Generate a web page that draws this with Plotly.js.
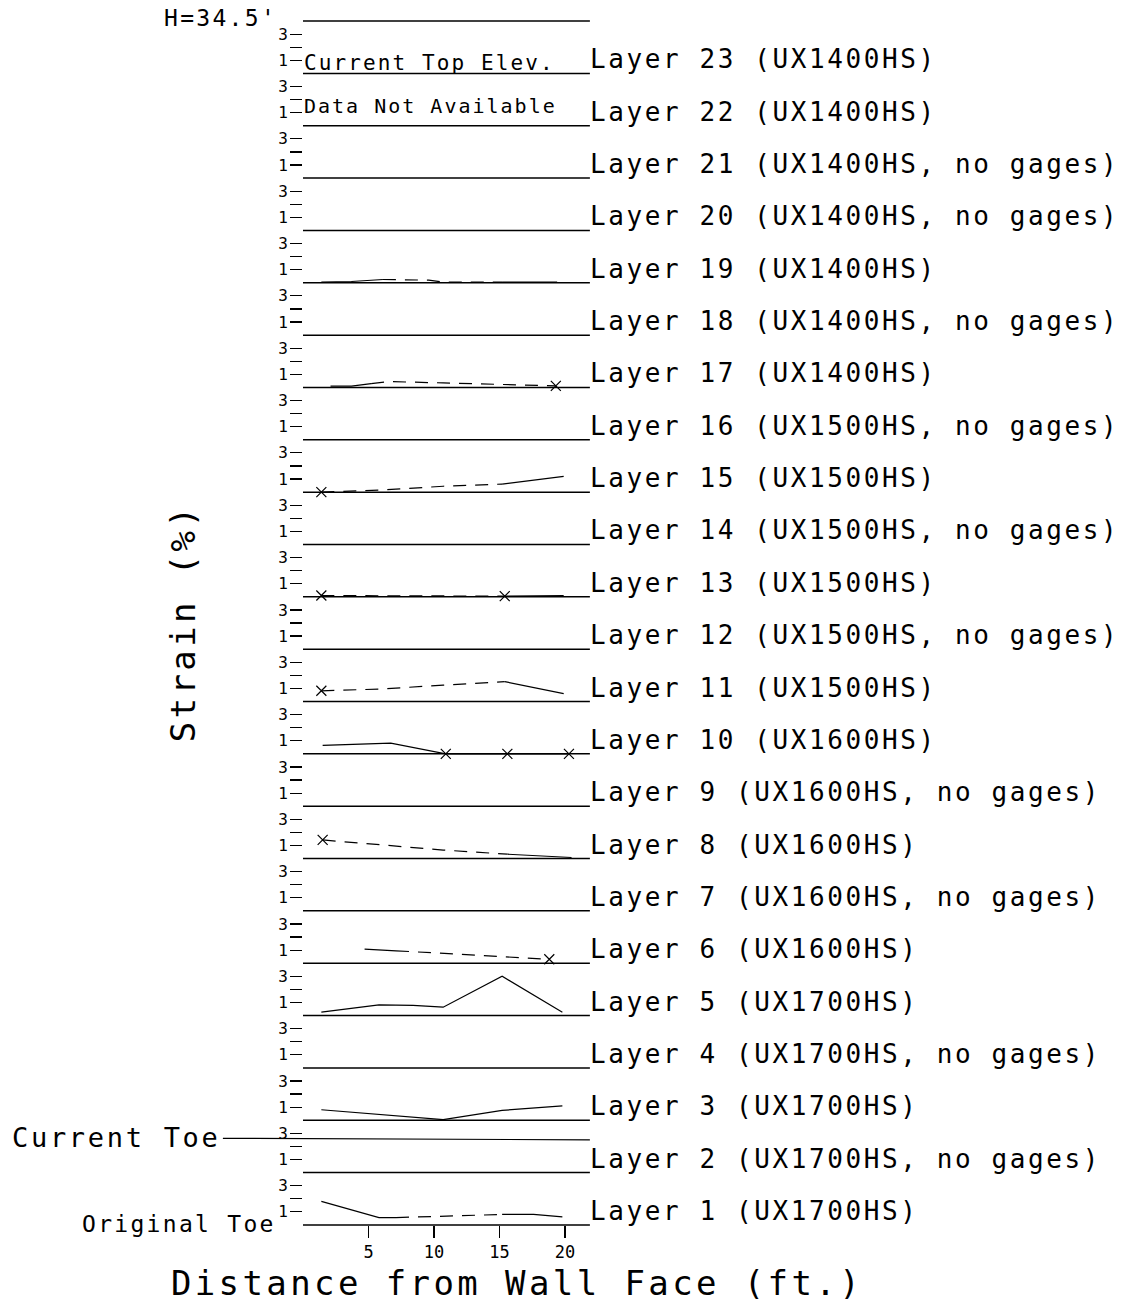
<!DOCTYPE html>
<html>
<head>
<meta charset="utf-8">
<script src="https://cdn.plot.ly/plotly-3.0.1.min.js"></script>
<style>
  html, body { margin: 0; padding: 0; background: #fff; }
  #chart { width: 1126px; height: 1303px; }
  .annotation-text, .xtitle, .ytitle { letter-spacing: 0.1em; }
</style>
</head>
<body>
<div id="chart"></div>
<script>
// ---------- data ----------
const layerNumbers = [1,2,3,4,5,6,7,8,9,10,11,12,13,14,15,16,17,18,19,20,21,22,23];
const gridTypes = ['UX1700HS','UX1700HS','UX1700HS','UX1700HS','UX1700HS',
                   'UX1600HS','UX1600HS','UX1600HS','UX1600HS','UX1600HS',
                   'UX1500HS','UX1500HS','UX1500HS','UX1500HS','UX1500HS','UX1500HS',
                   'UX1400HS','UX1400HS','UX1400HS','UX1400HS','UX1400HS','UX1400HS','UX1400HS'];
const noGageLayers = [2,4,7,9,12,14,16,18,20,21];

const xTickVals = [5, 10, 15, 20];
const yTickVals = [1, 2, 3];
const yTickText = ['1', '', '3'];

// distance from wall face (ft) / strain (%) / segment style (s = solid, d = dashed) / broken-gage marks
const L1_X = [1.4, 5.8, 7.1, 10.7, 15.2, 17.6, 19.8];
const L1_Y = [1.8, 0.56, 0.56, 0.69, 0.8, 0.8, 0.62];
const L1_SEG = ['s','s','d','d','s','s'];
const L1_MARK = [];

const L3_X = [1.4, 10.7, 15.2, 19.8];
const L3_Y = [0.8, 0.05, 0.75, 1.1];
const L3_SEG = ['s','s','s'];
const L3_MARK = [];

const L5_X = [1.4, 5.8, 8.4, 10.7, 15.2, 19.8];
const L5_Y = [0.26, 0.82, 0.78, 0.64, 3.0, 0.26];
const L5_SEG = ['s','s','s','s','s'];
const L5_MARK = [];

const L6_X = [4.7, 7.1, 10.7, 15.2, 18.8];
const L6_Y = [1.07, 0.95, 0.75, 0.5, 0.3];
const L6_SEG = ['s','d','d','d'];
const L6_MARK = [4];

const L8_X = [1.5, 5.8, 10.7, 15.6, 18.0, 20.5];
const L8_Y = [1.42, 1.05, 0.65, 0.33, 0.22, 0.08];
const L8_SEG = ['d','d','d','s','s'];
const L8_MARK = [0];

const L10_X = [1.5, 3.8, 6.7, 10.9, 15.6, 20.3];
const L10_Y = [0.65, 0.72, 0.82, 0, 0, 0];
const L10_SEG = ['s','s','s','s','s'];
const L10_MARK = [3, 4, 5];

const L11_X = [1.4, 5.8, 10.7, 15.4, 19.9];
const L11_Y = [0.82, 0.95, 1.25, 1.52, 0.6];
const L11_SEG = ['d','d','d','s'];
const L11_MARK = [0];

const L13_X = [1.4, 5.8, 10.7, 15.4, 19.9];
const L13_Y = [0.1, 0.1, 0.1, 0.05, 0.1];
const L13_SEG = ['d','d','d','s'];
const L13_MARK = [0, 3];

const L15_X = [1.4, 5.8, 10.7, 15.2, 19.9];
const L15_Y = [0, 0.15, 0.45, 0.62, 1.2];
const L15_SEG = ['d','d','d','s'];
const L15_MARK = [0];

const L17_X = [2.1, 3.7, 5.2, 6.5, 10.7, 15.2, 19.3];
const L17_Y = [0.1, 0.1, 0.3, 0.45, 0.35, 0.25, 0.12];
const L17_SEG = ['s','s','d','d','d','d'];
const L17_MARK = [6];

const L19_X = [1.4, 3.7, 6.1, 9.6, 10.7, 15.2, 19.4];
const L19_Y = [0.05, 0.1, 0.25, 0.2, 0.05, 0.05, 0.05];
const L19_SEG = ['s','s','d','d','d','s'];
const L19_MARK = [];

const gagedLayers = [
  {layer: 1, x: L1_X, y: L1_Y, seg: L1_SEG, mark: L1_MARK},
  {layer: 3, x: L3_X, y: L3_Y, seg: L3_SEG, mark: L3_MARK},
  {layer: 5, x: L5_X, y: L5_Y, seg: L5_SEG, mark: L5_MARK},
  {layer: 6, x: L6_X, y: L6_Y, seg: L6_SEG, mark: L6_MARK},
  {layer: 8, x: L8_X, y: L8_Y, seg: L8_SEG, mark: L8_MARK},
  {layer: 10, x: L10_X, y: L10_Y, seg: L10_SEG, mark: L10_MARK},
  {layer: 11, x: L11_X, y: L11_Y, seg: L11_SEG, mark: L11_MARK},
  {layer: 13, x: L13_X, y: L13_Y, seg: L13_SEG, mark: L13_MARK},
  {layer: 15, x: L15_X, y: L15_Y, seg: L15_SEG, mark: L15_MARK},
  {layer: 17, x: L17_X, y: L17_Y, seg: L17_SEG, mark: L17_MARK},
  {layer: 19, x: L19_X, y: L19_Y, seg: L19_SEG, mark: L19_MARK}
];

const wallHeightLabel = "H=34.5'";
const currentToeStrain = 2.5;   // position inside layer 2 strip
const topNote1 = 'Current Top Elev.';
const topNote2 = 'Data Not Available';

// ---------- layout constants ----------
const PANEL = 4;          // strain units per layer strip
const XEND = 21.9;        // right end of each strip (ft)
const PX_PER_FT = 13.1;
const LEFT = 303, RIGHT_M = 395;
const PLOT_W = 1126 - LEFT - RIGHT_M;
const XMAX = PLOT_W / PX_PER_FT;
const YMIN = -1, YMAX = layerNumbers.length * PANEL + 1;
const FONT = '"DejaVu Sans Mono", "Liberation Mono", monospace';

const offsetOf = n => (n - 1) * PANEL;

// ---------- traces ----------
const traces = [];
gagedLayers.forEach(g => {
  const off = offsetOf(g.layer);
  let i = 0;
  while (i < g.seg.length) {
    let j = i;
    while (j + 1 < g.seg.length && g.seg[j + 1] === g.seg[i]) j++;
    traces.push({
      type: 'scatter', mode: 'lines',
      x: g.x.slice(i, j + 2),
      y: g.y.slice(i, j + 2).map(v => v + off),
      line: {color: '#000', width: 1.2, dash: g.seg[i] === 'd' ? '13px,9px' : 'solid'},
      showlegend: false, hoverinfo: 'skip'
    });
    i = j + 1;
  }
  if (g.mark.length) {
    traces.push({
      type: 'scatter', mode: 'markers',
      x: g.mark.map(k => g.x[k]),
      y: g.mark.map(k => g.y[k] + off),
      marker: {symbol: 'x-thin', size: 10, color: '#000', line: {color: '#000', width: 1.2}},
      showlegend: false, hoverinfo: 'skip', cliponaxis: false
    });
  }
});

// ---------- shapes: strip baselines ----------
const shapes = [];
layerNumbers.forEach(n => {
  shapes.push({type: 'line', xref: 'x', yref: 'y', x0: 0, x1: XEND,
               y0: offsetOf(n), y1: offsetOf(n), line: {color: '#000', width: 1.5}});
});
const topY = layerNumbers.length * PANEL;
shapes.push({type: 'line', xref: 'x', yref: 'y', x0: 0, x1: XEND, y0: topY, y1: topY,
             line: {color: '#000', width: 1.5}});

// ---------- ticks ----------
const tickvals = [], ticktext = [];
layerNumbers.forEach(n => {
  yTickVals.forEach((v, k) => { tickvals.push(offsetOf(n) + v); ticktext.push(yTickText[k]); });
});

// ---------- annotations ----------
const annotations = [];
layerNumbers.forEach((n, idx) => {
  const suffix = noGageLayers.includes(n) ? ', no gages)' : ')';
  annotations.push({
    xref: 'x', yref: 'y', x: XEND, y: offsetOf(n), xanchor: 'left', yanchor: 'middle',
    xshift: -2, yshift: 14, showarrow: false,
    text: 'Layer ' + n + ' (' + gridTypes[idx] + suffix,
    font: {family: FONT, size: 26, color: '#000'}
  });
});
annotations.push({xref: 'x', yref: 'y', x: 0, y: topY, xanchor: 'right', yanchor: 'middle',
  xshift: -24, yshift: 3, showarrow: false, text: wallHeightLabel,
  font: {family: FONT, size: 23, color: '#000'}});
annotations.push({xref: 'x', yref: 'y', x: 0, y: 0, xanchor: 'right', yanchor: 'middle',
  xshift: -25, yshift: 1, showarrow: false, text: 'Original Toe',
  font: {family: FONT, size: 23, color: '#000'}});
annotations.push({xref: 'x', yref: 'y', x: XEND, y: offsetOf(2) + currentToeStrain,
  showarrow: true, arrowhead: 0, arrowwidth: 1.2, arrowcolor: '#000',
  ax: -473, ay: -2, text: 'Current Toe',
  font: {family: FONT, size: 27, color: '#000'}});
annotations.push({xref: 'x', yref: 'y', x: 0, y: offsetOf(23), xanchor: 'left', yanchor: 'middle',
  xshift: -1, yshift: 10, showarrow: false, text: topNote1,
  font: {family: FONT, size: 21, color: '#000'}});
annotations.push({xref: 'x', yref: 'y', x: 0, y: offsetOf(22), xanchor: 'left', yanchor: 'middle',
  xshift: -1, yshift: 20, showarrow: false, text: topNote2,
  font: {family: FONT, size: 20, color: '#000'}});

// ---------- layout ----------
const plotH = 1204 / (layerNumbers.length * PANEL) * (YMAX - YMIN);
const topM = 21 - (YMAX - topY) * (1204 / (layerNumbers.length * PANEL));
const layout = {
  width: 1126, height: 1303,
  paper_bgcolor: '#fff', plot_bgcolor: '#fff',
  margin: {l: LEFT, r: RIGHT_M, t: topM, b: 1303 - topM - plotH, pad: 0},
  showlegend: false,
  font: {family: FONT, color: '#000'},
  xaxis: {
    range: [0, XMAX], anchor: 'free', position: (0 - YMIN) / (YMAX - YMIN),
    tickvals: xTickVals, ticks: 'outside', ticklen: 12, tickwidth: 1.2, tickcolor: '#000',
    showline: false, showgrid: false, zeroline: false,
    tickfont: {family: FONT, size: 17, color: '#000'},
    title: {text: 'Distance from Wall Face (ft.)', font: {family: FONT, size: 34, color: '#000'}, standoff: 9},
    fixedrange: true
  },
  yaxis: {
    range: [YMIN, YMAX], tickvals: tickvals, ticktext: ticktext,
    ticks: 'outside', ticklen: 12, tickwidth: 1.2, tickcolor: '#000',
    showline: false, showgrid: false, zeroline: false,
    tickfont: {family: FONT, size: 16, color: '#000'},
    ticklabelstandoff: -1,
    title: {text: 'Strain (%)', font: {family: FONT, size: 34, color: '#000'}, standoff: 72},
    fixedrange: true
  },
  shapes: shapes,
  annotations: annotations
};

Plotly.newPlot('chart', traces, layout, {staticPlot: true, displayModeBar: false});
</script>
</body>
</html>
